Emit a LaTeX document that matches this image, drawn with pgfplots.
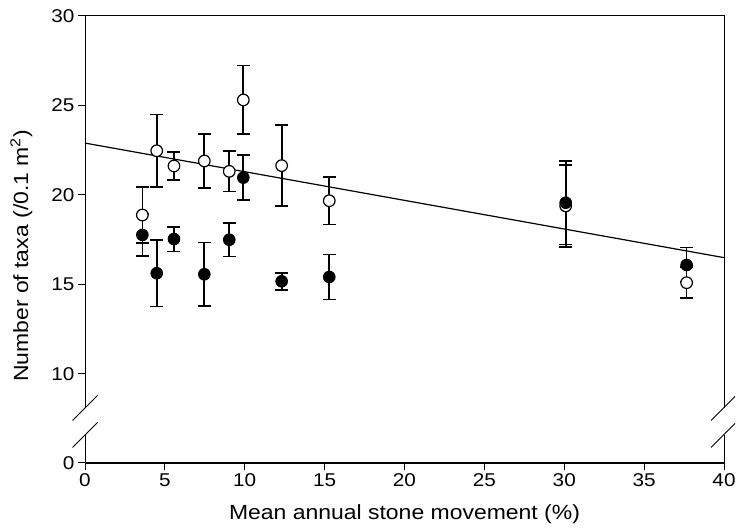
\documentclass[border=0pt]{standalone}
\usepackage{fontspec}
\setmainfont[FakeStretch=1.12]{Liberation Sans}
\usepackage{pgfplots}
\pgfplotsset{compat=1.18}
\begin{document}
\begin{tikzpicture}[x=1pt,y=1pt]
\path[use as bounding box, fill=white] (0,0) rectangle (736,529);
\pgfplotsset{every axis/.append style={scale only axis, width=639pt, xmin=0, xmax=40,
  axis line style={draw=none}, tick align=outside, major tick length=7pt,
  tick style={black, line width=1pt},
  /pgf/number format/assume math mode=true,
  tick label style={font=\fontsize{18.5}{20}\selectfont, text=black},
  clip=false}}
\begin{axis}[at={(85pt,121pt)}, anchor=south west, height=392pt,
  ymin=8.1, ymax=30, ytick={10,15,20,25,30}, xtick=\empty, ytick pos=left]
 \draw[line width=1pt] (rel axis cs:0,0) -- (rel axis cs:0,1) -- (rel axis cs:1,1) -- (rel axis cs:1,0);
 \addplot[only marks, mark=*, mark size=5.8pt,
   mark options={fill=white, draw=black, line width=1.2pt},
   error bars/.cd, y dir=both, y explicit,
   error bar style={line width=1.7pt, black},
   error mark options={rotate=90, mark size=6.5pt, line width=1.7pt, black}]
 coordinates {
  (3.59,18.88) +- (0,1.56)
  (4.49,22.47) +- (0,2.03)
  (5.57,21.62) +- (0,0.77)
  (7.47,21.90) +- (0,1.51)
  (9.03,21.32) +- (0,1.12)
  (9.91,25.31) +- (0,1.92)
  (12.31,21.64) +- (0,2.26)
  (15.29,19.68) +- (0,1.33)
  (30.09,19.39) +- (0,2.29)
  (37.66,15.10) +- (0,0.87)
 };
 \addplot[only marks, mark=*, mark size=5.8pt,
   mark options={fill=black, draw=black, line width=1pt},
   error bars/.cd, y dir=both, y explicit,
   error bar style={line width=1.7pt, black},
   error mark options={rotate=90, mark size=6.5pt, line width=1.7pt, black}]
 coordinates {
  (3.59,17.77) +- (0,1.16)
  (4.49,15.63) +- (0,1.86)
  (5.57,17.54) +- (0,0.69)
  (7.47,15.57) +- (0,1.77)
  (9.03,17.50) +- (0,0.93)
  (9.91,20.97) +- (0,1.26)
  (12.31,15.18) +- (0,0.48)
  (15.29,15.42) +- (0,1.26)
  (30.09,19.57) +- (0,2.33)
  (37.66,16.09) +- (0,0.97)
 };
 \addplot[black, line width=1.2pt, no marks] coordinates {(0,22.9) (40,16.5)};
\end{axis}
\begin{axis}[at={(85pt,66pt)}, anchor=south west, height=28pt,
  ymin=0, ymax=1.564, ytick={0}, xtick={0,5,...,40}, ytick pos=left, xtick pos=bottom]
 \draw[line width=1pt] (rel axis cs:0,0) -- (rel axis cs:0,1);
 \draw[line width=1pt] (rel axis cs:1,0) -- (rel axis cs:1,1);
 \draw[line width=2pt] (rel axis cs:0,0) -- (rel axis cs:1,0);
\end{axis}
\draw[line width=1pt] (72.5,108.5) -- (97.5,133.5);
\draw[line width=1pt] (72.5,81.5) -- (97.5,106.5);
\draw[line width=1pt] (711,108.5) -- (735,132.5);
\draw[line width=1pt] (711,81.5) -- (735,105.5);
\node[anchor=base, font=\fontsize{20.5}{24}\selectfont, text=black] at (404.5,9) {Mean annual stone movement (\%)};
\node[rotate=90, anchor=base, font=\fontsize{20.5}{24}\selectfont, text=black] at (28,273) {Number of taxa (/0.1 m\textsuperscript{2})};
\end{tikzpicture}
\end{document}
